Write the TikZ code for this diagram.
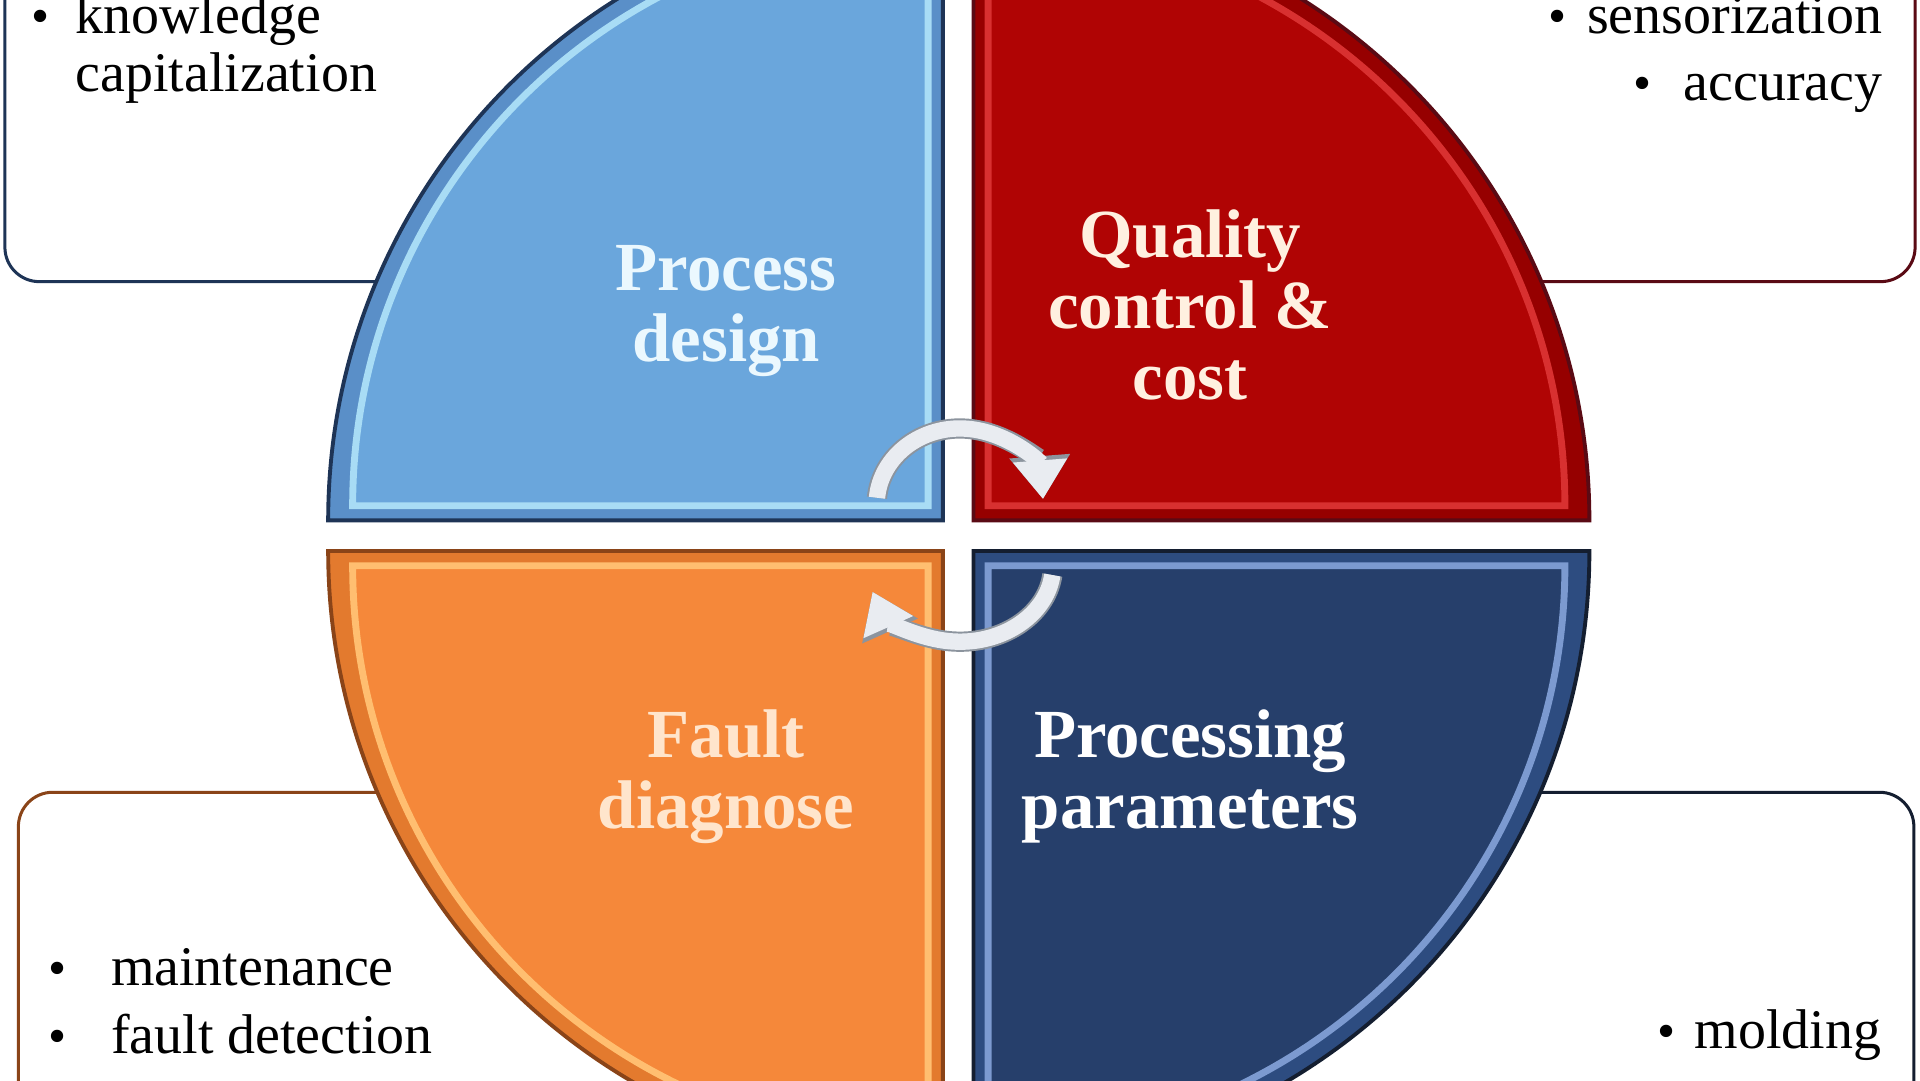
\documentclass[tikz,border=0pt]{standalone}
\usepackage{fontspec}
\setmainfont{Liberation Serif}
\usepackage{tikz}
\usepackage{tkz-euclide}
\usepackage{xcolor}
\usetikzlibrary{arrows.meta, calc}

\definecolor{tlmain}{HTML}{6AA6DC}
\definecolor{tlband}{HTML}{5A8FC8}
\definecolor{tllite}{HTML}{A8DCF5}
\definecolor{tlline}{HTML}{1E3456}
\definecolor{trmain}{HTML}{B00404}
\definecolor{trband}{HTML}{960000}
\definecolor{trlite}{HTML}{D83030}
\definecolor{trline}{HTML}{5A0A14}
\definecolor{blmain}{HTML}{F5883A}
\definecolor{blband}{HTML}{E37A2E}
\definecolor{bllite}{HTML}{FFBE70}
\definecolor{blline}{HTML}{8A4418}
\definecolor{brmain}{HTML}{263F6B}
\definecolor{brband}{HTML}{2D4C80}
\definecolor{brlite}{HTML}{7C9AD0}
\definecolor{brline}{HTML}{141E30}
\definecolor{arrfill}{HTML}{E9ECF1}
\definecolor{arredge}{HTML}{8C949E}

\tikzset{
  box/.style={fill=white, line width=0.7pt, rounded corners=8pt},
  sector/.style={line width=0.9pt},
  inner/.style={line width=1.6pt},
  lab/.style={align=center, inner sep=0pt, font=\fontsize{16}{16.5}\selectfont\bfseries},
  bul/.style={anchor=base, inner sep=0pt, font=\fontsize{12}{12}\selectfont},
  item/.style={anchor=base west, inner sep=0pt, font=\fontsize{13}{13}\selectfont},
  arr/.style={line width=3.8pt, color=arrfill, -{Triangle[length=9pt,width=12pt]}},
  arrbk/.style={line width=4.7pt, color=arredge, -{Triangle[length=10pt,width=13.5pt]}}
}

\begin{document}
\begin{tikzpicture}[x=0.1mm, y=-0.1mm]
    \useasboundingbox (0,0) rectangle (1568,882);
    \fill[white] (0,0) rectangle (1568,882);
    \clip (0,0) rectangle (1568,882);
    % corners of the four quarters
    \tkzDefPoint(770,425){c_1}
    \tkzDefPoint(795,425){c_2}
    \tkzDefPoint(770,450){c_3}
    \tkzDefPoint(795,450){c_4}
    % boxes behind the disc
    \draw[box, draw=tlline] (4,-100) rectangle (700,230);
    \draw[box, draw=trline] (860,-100) rectangle (1564,230);
    \draw[box, draw=blline] (15,647) rectangle (700,1000);
    \draw[box, draw=brline] (860,647) rectangle (1563,1000);
    % the four quarters
    \filldraw[sector, fill=tlband, draw=tlline] (c_1) -- ++(180:502) arc[start angle=180, end angle=270, radius=502] -- cycle;
    \filldraw[inner, fill=tlmain, draw=tllite] ($(c_1)+(-12,-12)$) -- ++(180:470) arc[start angle=180, end angle=270, radius=470] -- cycle;
    \filldraw[sector, fill=trband, draw=trline] (c_2) -- ++(270:503) arc[start angle=270, end angle=360, radius=503] -- cycle;
    \filldraw[inner, fill=trmain, draw=trlite] ($(c_2)+(12,-12)$) -- ++(270:471) arc[start angle=270, end angle=360, radius=471] -- cycle;
    \filldraw[sector, fill=blband, draw=blline] (c_3) -- ++(90:502) arc[start angle=90, end angle=180, radius=502] -- cycle;
    \filldraw[inner, fill=blmain, draw=bllite] ($(c_3)+(-12,12)$) -- ++(90:470) arc[start angle=90, end angle=180, radius=470] -- cycle;
    \filldraw[sector, fill=brband, draw=brline] (c_4) -- ++(0:503) arc[start angle=0, end angle=90, radius=503] -- cycle;
    \filldraw[inner, fill=brmain, draw=brlite] ($(c_4)+(12,12)$) -- ++(0:471) arc[start angle=0, end angle=90, radius=471] -- cycle;
    % labels on the disc
    \node[lab, text=white!92!cyan] (l_1) at (593,254) {Process\\design};
    \node[lab, text=white!88!orange] (l_2) at (972,249) {Quality\\control \&\\cost};
    \node[lab, text=white!80!orange] (l_3) at (593,634) {Fault\\diagnose};
    \node[lab, text=white] (l_4) at (972,634) {Processing\\parameters};
    % cycle arrows
    \tkzDefPoint(784,412){a_1}
    \tkzDefPoint(784,462){a_2}
    \draw[arrbk] ($(a_1)+(-67.8,-5.5)$) arc[start angle=185, end angle=356, x radius=68, y radius=62];
    \draw[arr] ($(a_1)+(-67.8,-5.5)$) arc[start angle=185, end angle=356, x radius=68, y radius=62];
    \draw[arrbk] ($(a_2)+(75.4,7.6)$) arc[start angle=7, end angle=160, x radius=76, y radius=62];
    \draw[arr] ($(a_2)+(75.4,7.6)$) arc[start angle=7, end angle=160, x radius=76, y radius=62];
    % box texts
    \node[bul] (b_1) at (33,27) {\textbullet};
    \node[item] (i_1) at (61,27) {knowledge};
    \node[item] (i_2) at (61,75) {capitalization};
    \node[bul] (b_2) at (1272,27) {\textbullet};
    \node[item, anchor=base east] (i_3) at (1538,27) {sensorization};
    \node[bul] (b_3) at (1341,82) {\textbullet};
    \node[item, anchor=base east] (i_4) at (1538,82) {accuracy};
    \node[bul] (b_4) at (47,805) {\textbullet};
    \node[item] (i_5) at (90,805) {maintenance};
    \node[bul] (b_5) at (47,860) {\textbullet};
    \node[item] (i_6) at (90,860) {fault detection};
    \node[bul] (b_6) at (1361,856) {\textbullet};
    \node[item, anchor=base east] (i_7) at (1537,856) {molding};
\end{tikzpicture}
\end{document}
